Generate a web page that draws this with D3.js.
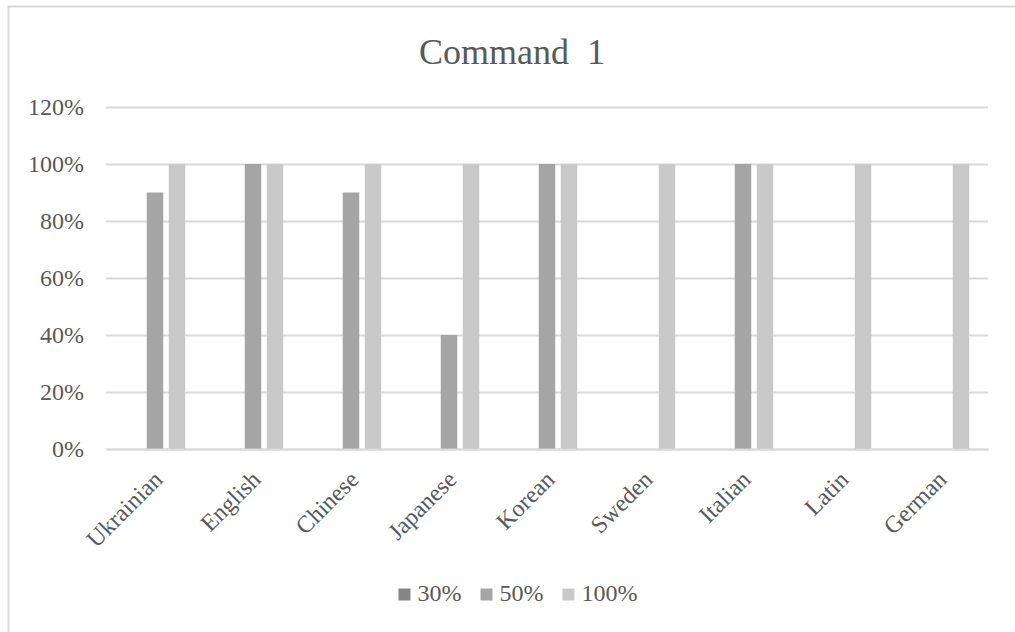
<!DOCTYPE html>
<html>
<head>
<meta charset="utf-8">
<script src="https://cdn.jsdelivr.net/npm/d3@7"></script>
<style>
  html, body { margin: 0; padding: 0; background: #fff; }
  svg { display: block; font-family: "Liberation Serif", "Times New Roman", serif; }
</style>
</head>
<body>
<svg id="chart" width="1015" height="632"></svg>
<script>
const categories = ["Ukrainian", "English", "Chinese", "Japanese", "Korean", "Sweden", "Italian", "Latin", "German"];
const seriesNames = ["30%", "50%", "100%"];
const values30 = [0, 0, 0, 0, 0, 0, 0, 0, 0];
const values50 = [0.9, 1.0, 0.9, 0.4, 1.0, 0, 1.0, 0, 0];
const values100 = [1.0, 1.0, 1.0, 1.0, 1.0, 1.0, 1.0, 1.0, 1.0];
const yTicks = [0, 0.2, 0.4, 0.6, 0.8, 1.0, 1.2];
const title = "Command  1";

(function () {
const colors = ["#858585", "#a5a5a5", "#c9c9c9"];
const seriesValues = [values30, values50, values100];

const svg = d3.select("#chart");
const textColor = "#595959";
const gridColor = "#d9d9d9";
const fs = 24;

// chart border
svg.append("rect")
  .attr("x", 8.5).attr("y", 6.5)
  .attr("width", 1030).attr("height", 640)
  .attr("fill", "none").attr("stroke", gridColor).attr("stroke-width", 2);

const pLeft = 106, pRight = 988, pTop = 107, pBottom = 449;

const x0 = d3.scaleBand().domain(categories).range([pLeft, pRight]).paddingInner(0).paddingOuter(0);
const groupWidth = 60.5;
const x1 = d3.scaleBand().domain(seriesNames)
  .range([(x0.bandwidth() - groupWidth) / 2, (x0.bandwidth() + groupWidth) / 2])
  .paddingInner(0.25).paddingOuter(0);
const y = d3.scaleLinear().domain([0, 1.2]).range([pBottom, pTop]);

// title
svg.append("text")
  .attr("x", 512).attr("y", 64)
  .attr("text-anchor", "middle")
  .attr("fill", textColor)
  .attr("font-size", 36)
  .style("white-space", "pre")
  .text(title);

// y axis (gridlines + labels)
const yAxis = d3.axisLeft(y).tickValues(yTicks)
  .tickSize(-(pRight - pLeft)).tickPadding(22)
  .tickFormat(d3.format(".0%"));
const gy = svg.append("g").attr("transform", `translate(${pLeft},0)`).call(yAxis);
gy.select(".domain").remove();
gy.selectAll(".tick line").attr("stroke", gridColor).attr("stroke-width", 2);
gy.selectAll(".tick text").attr("fill", textColor).attr("font-size", fs)
  .attr("font-family", "Liberation Serif, Times New Roman, serif");

// bars
const groups = svg.append("g").selectAll("g")
  .data(categories)
  .join("g")
  .attr("transform", d => `translate(${x0(d)},0)`);

groups.selectAll("rect")
  .data((d, i) => seriesNames.map((s, k) => ({ s, v: seriesValues[k][i], k })))
  .join("rect")
  .attr("x", d => x1(d.s))
  .attr("width", x1.bandwidth())
  .attr("y", d => y(d.v))
  .attr("height", d => y(0) - y(d.v))
  .attr("fill", d => colors[d.k]);

// x axis
const xAxis = d3.axisBottom(x0).tickSize(0).tickPadding(0);
const gx = svg.append("g").attr("transform", `translate(0,${pBottom})`).call(xAxis);
gx.select(".domain").attr("stroke", gridColor).attr("stroke-width", 2);
gx.selectAll(".tick text")
  .attr("fill", textColor).attr("font-size", fs)
  .attr("font-family", "Liberation Serif, Times New Roman, serif")
  .attr("text-anchor", "end")
  .attr("dy", 0)
  .attr("transform", "translate(9,32) rotate(-45)");

// legend
const legend = svg.append("g");
const items = legend.selectAll("g").data(seriesNames).join("g");
items.append("rect").attr("width", 12).attr("height", 12).attr("y", -12.5)
  .attr("fill", (d, i) => colors[i]);
items.append("text").attr("x", 19).attr("y", 0)
  .attr("fill", textColor).attr("font-size", fs)
  .text(d => d);
const widths = [];
items.each(function () {
  widths.push(19 + this.querySelector("text").getComputedTextLength());
});
const gap = 19;
const total = d3.sum(widths) + gap * (widths.length - 1);
const startX = 518 - total / 2;
items.attr("transform", (d, i) => {
  const xx = startX + d3.sum(widths.slice(0, i)) + gap * i;
  return `translate(${xx},601)`;
});
})();
</script>
</body>
</html>
